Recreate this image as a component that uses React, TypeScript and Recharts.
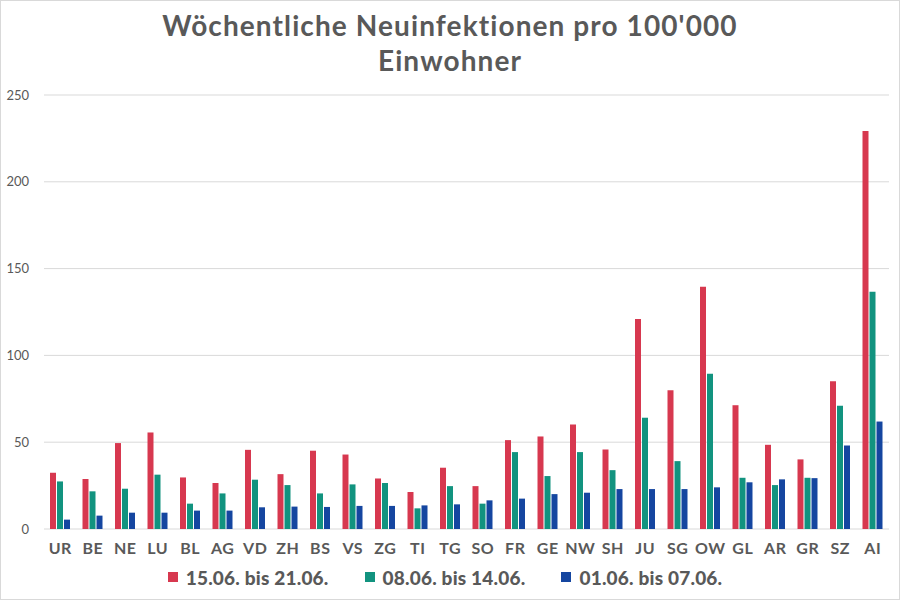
import React from 'react';
import { BarChart, Bar, XAxis, YAxis, CartesianGrid, Legend } from 'recharts';

const KANTONE = ['UR', 'BE', 'NE', 'LU', 'BL', 'AG', 'VD', 'ZH', 'BS', 'VS', 'ZG', 'TI', 'TG', 'SO', 'FR', 'GE', 'NW', 'SH', 'JU', 'SG', 'OW', 'GL', 'AR', 'GR', 'SZ', 'AI'];
const WOCHE_3 = [32.4, 28.8, 49.5, 55.6, 29.7, 26.5, 45.6, 31.6, 45.1, 42.9, 29.1, 21.3, 35.3, 24.7, 51.2, 53.3, 60.2, 45.8, 121, 79.9, 139.6, 71.3, 48.5, 40.1, 85.1, 229.3];
const WOCHE_2 = [27.4, 21.7, 23.2, 31.3, 14.6, 20.5, 28.4, 25.3, 20.5, 25.7, 26.5, 11.9, 24.7, 14.6, 44.3, 30.5, 44.3, 33.9, 64.1, 39.1, 89.5, 29.5, 25.3, 29.5, 71.0, 136.7];
const WOCHE_1 = [5.4, 7.7, 9.4, 9.4, 10.6, 10.6, 12.5, 12.9, 12.7, 13.3, 13.3, 13.6, 14.2, 16.5, 17.5, 20.1, 20.9, 23.0, 23.0, 23.0, 24.0, 26.9, 28.6, 29.3, 48.1, 61.9];
const Y_TICKS = [0, 50, 100, 150, 200, 250];

const SERIES = [
  { key: 'w3', name: '15.06. bis 21.06.', color: '#D7384F' },
  { key: 'w2', name: '08.06. bis 14.06.', color: '#12937F' },
  { key: 'w1', name: '01.06. bis 07.06.', color: '#1546A0' },
];

const GRAU = '#595959';
const FONT = 'Lato, "Open Sans", sans-serif';

const data = KANTONE.map((k, i) => ({ kanton: k, w3: WOCHE_3[i], w2: WOCHE_2[i], w1: WOCHE_1[i] }));

// eigene Legende, damit Reihenfolge und Abstände stimmen
const Legende = () => (
  <div style={{ display: 'flex', justifyContent: 'center', alignItems: 'center', height: 24, fontSize: 19, fontWeight: 900, letterSpacing: 0.2, color: GRAU, fontFamily: FONT }}>
    {SERIES.map((s, i) => (
      <span key={s.key} style={{ display: 'flex', alignItems: 'center', marginLeft: i ? 36 : 0 }}>
        <span style={{ width: 10, height: 10, background: s.color, marginRight: 8, display: 'inline-block' }} />
        {s.name}
      </span>
    ))}
  </div>
);

export default function App() {
  return (
    <div style={{ position: 'relative', width: 900, height: 600, boxSizing: 'border-box', border: '1px solid #d9d9d9', background: '#fff', fontFamily: FONT }}>
      <style>{'body{margin:0}'}</style>
      <div style={{ position: 'absolute', top: 7, left: 0, width: 898, textAlign: 'center', fontWeight: 700, fontSize: 28, letterSpacing: 1.1, lineHeight: '35px', color: GRAU }}>
        Wöchentliche Neuinfektionen pro 100'000
        <br />
        Einwohner
      </div>
      <BarChart
        width={898}
        height={598}
        data={data}
        margin={{ top: 94, right: 10, bottom: 16, left: 0 }}
        barSize={6}
        barGap={1}
        style={{ position: 'absolute', top: 0, left: 0 }}
      >
        <CartesianGrid vertical={false} stroke="#d9d9d9" />
        <XAxis
          dataKey="kanton"
          axisLine={false}
          tickLine={false}
          interval={0}
          height={30}
          tickMargin={8}
          tick={{ fontSize: 16, fontWeight: 700, fill: GRAU, fontFamily: FONT, letterSpacing: 0.5 }}
        />
        <YAxis
          domain={[0, 250]}
          ticks={Y_TICKS}
          width={43}
          axisLine={false}
          tickLine={false}
          tickMargin={9}
          tick={{ fontSize: 13, fill: GRAU, fontFamily: FONT }}
        />
        <Legend verticalAlign="bottom" content={<Legende />} wrapperStyle={{ bottom: 10 }} />
        {SERIES.map((s) => (
          <Bar key={s.key} dataKey={s.key} name={s.name} fill={s.color} isAnimationActive={false} />
        ))}
      </BarChart>
    </div>
  );
}
